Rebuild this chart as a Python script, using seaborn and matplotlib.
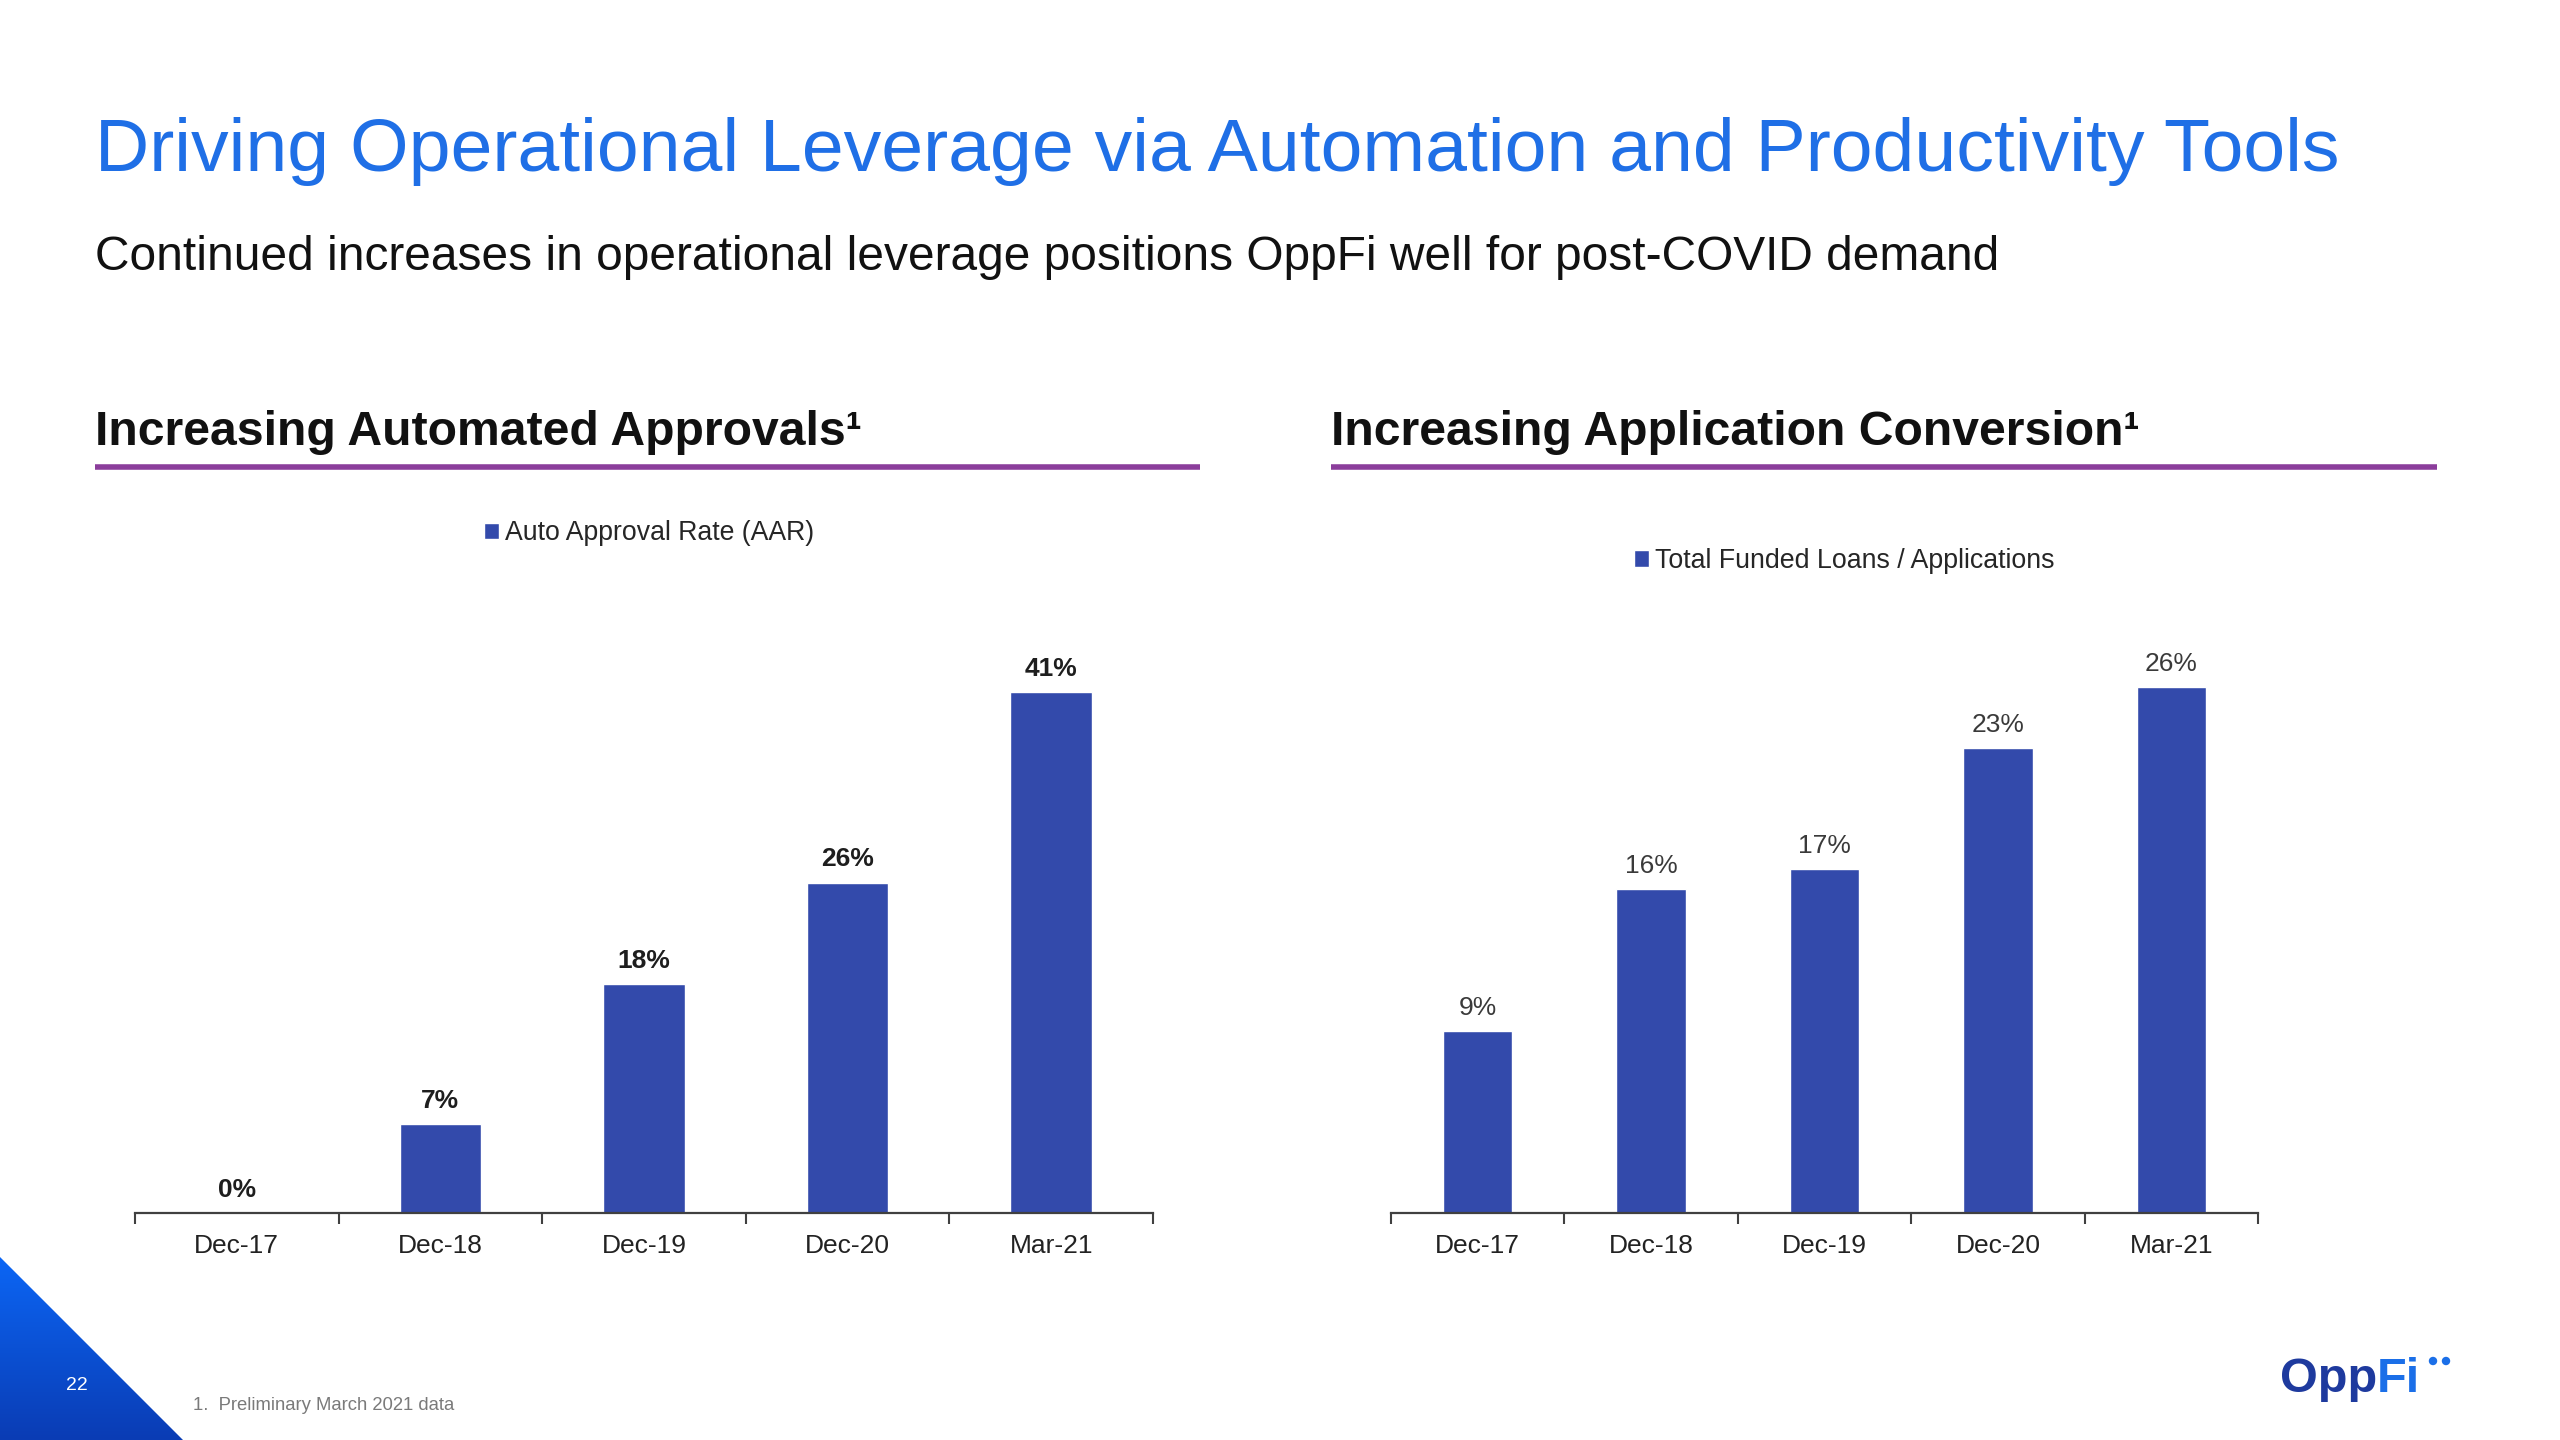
import numpy as np
import pandas as pd
import matplotlib
matplotlib.use("Agg")
import matplotlib.pyplot as plt
import seaborn as sns
from matplotlib.patches import Polygon, Circle
from matplotlib.colors import LinearSegmentedColormap

# ---------------- data ----------------
periods = ["Dec-17", "Dec-18", "Dec-19", "Dec-20", "Mar-21"]
aar_values = [0, 7, 18, 26, 41]
conversion_values = [9, 16, 17, 23, 26]
aar_series = "Auto Approval Rate (AAR)"
conversion_series = "Total Funded Loans / Applications"

title = "Driving Operational Leverage via Automation and Productivity Tools"
subtitle = "Continued increases in operational leverage positions OppFi well for post-COVID demand"
left_heading = "Increasing Automated Approvals\u00b9"
right_heading = "Increasing Application Conversion\u00b9"
footnote = "1.  Preliminary March 2021 data"
page_number = "22"

# ---------------- style ----------------
BAR = "#334AAB"
TITLE_BLUE = "#1F6FE6"
PURPLE = "#8B3D9B"
W, H = 2560, 1440

sns.set_theme(style="white")
plt.rcParams['font.family'] = ['Liberation Sans', 'DejaVu Sans']

fig = plt.figure(figsize=(25.6, 14.4), dpi=100)
fig.patch.set_facecolor('white')


def fx(px):
    return px / W


def fy(py):
    return 1 - py / H


def draw_panel(left_px, right_px, px_per_unit, ymax, values, series,
               label_weight, label_color, legend_px, legend_size):
    axis_y = 1213
    height_px = px_per_unit * ymax
    rect = [fx(left_px), (H - axis_y) / H, (right_px - left_px) / W, height_px / H]
    ax = fig.add_axes(rect)
    df = pd.DataFrame({"period": periods, "value": values, "series": series})
    sns.barplot(data=df, x="period", y="value", hue="series",
                palette={series: BAR}, width=0.4, dodge=False,
                saturation=1, ax=ax)
    ax.set_xlim(-0.5, len(periods) - 0.5)
    ax.set_ylim(0, ymax)
    ax.set_xlabel("")
    ax.set_ylabel("")
    ax.set_yticks([])
    for s in ["left", "top", "right"]:
        ax.spines[s].set_visible(False)
    ax.spines["bottom"].set_color("#404040")
    ax.spines["bottom"].set_linewidth(1.6)
    ax.set_xticks(np.arange(-0.5, len(periods), 1), minor=True)
    ax.tick_params(axis="x", which="minor", bottom=True, length=8, width=1.5,
                   color="#404040", direction="out")
    ax.tick_params(axis="x", which="major", length=0, pad=15,
                   labelsize=19, labelcolor="#222222")
    ax.set_facecolor("none")
    for c in ax.containers:
        ax.bar_label(c, labels=[f"{v:g}%" for v in values], padding=8,
                     fontsize=19, fontweight=label_weight, color=label_color)
    handles, labels = ax.get_legend_handles_labels()
    ax.legend(handles, labels, loc="center left",
              bbox_to_anchor=(fx(legend_px[0]), fy(legend_px[1])),
              bbox_transform=fig.transFigure, frameon=False, fontsize=legend_size,
              handlelength=0.55, handleheight=0.55, handletextpad=0.25,
              borderpad=0, borderaxespad=0)
    return ax


draw_panel(135, 1153, 521 / 41, 50, aar_values, aar_series,
           "bold", "#1e1e1e", (484, 533), 19.2)
draw_panel(1391, 2258, 526 / 26, 35, conversion_values, conversion_series,
           "normal", "#3a3a3a", (1634, 561), 19.3)

# ---------------- decorations ----------------
ov = fig.add_axes([0, 0, 1, 1], zorder=5)
ov.set_axis_off()

grad = np.linspace(0, 1, 256).reshape(-1, 1)
cmap = LinearSegmentedColormap.from_list("g", ["#0c66f5", "#0a3cb4"])
im = ov.imshow(grad, extent=(0, 183, 1440, 1257), cmap=cmap,
               aspect="auto", origin="upper")
tri = Polygon([(0, 1257), (0, 1440), (183, 1440)], closed=True,
              facecolor="none", edgecolor="none", transform=ov.transData)
ov.add_patch(tri)
im.set_clip_path(tri)
ov.set_xlim(0, W)
ov.set_ylim(H, 0)

ov.text(77, 1385, page_number, color="white", fontsize=14,
        ha="center", va="center")

# heading underlines
ov.plot([95, 1200], [467, 467], color=PURPLE, lw=4, solid_capstyle="butt")
ov.plot([1331, 2437], [467, 467], color=PURPLE, lw=4, solid_capstyle="butt")

fig.text(fx(95), fy(152), title, fontsize=54.2, color=TITLE_BLUE,
         ha="left", va="center")
fig.text(fx(95), fy(257), subtitle, fontsize=34.5, color="#111111",
         ha="left", va="center")
fig.text(fx(95), fy(432), left_heading, fontsize=34.7, fontweight="bold",
         color="#111111", ha="left", va="center")
fig.text(fx(1331), fy(432), right_heading, fontsize=34.7, fontweight="bold",
         color="#111111", ha="left", va="center")
fig.text(fx(193), fy(1406), footnote, fontsize=13.3, color="#7a7a7a",
         ha="left", va="center")

# logo
t_opp = ov.text(2280, 1380, "Opp", fontsize=35, fontweight="bold",
                color="#1E3A9E", ha="left", va="center")
t_fi = ov.annotate("Fi", xy=(1, 0), xycoords=t_opp, fontsize=35,
                   fontweight="bold", color="#1B6FE8", ha="left", va="bottom")
ov.add_patch(Circle((2433, 1361), 3.5, color="#1B6FE8"))
ov.add_patch(Circle((2446, 1361), 3.5, color="#1B6FE8"))

fig.savefig("out.png", dpi=100)
